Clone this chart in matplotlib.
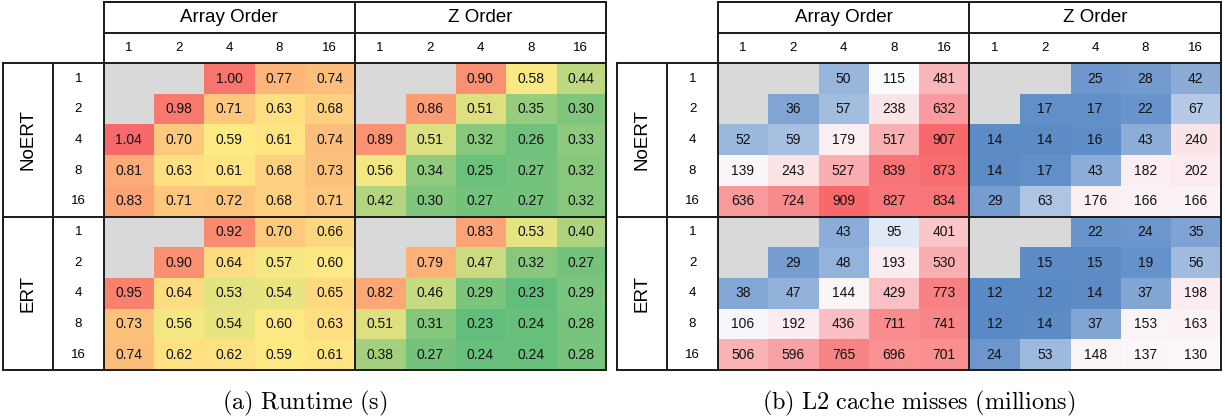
import numpy as np
import matplotlib
matplotlib.use("Agg")
import matplotlib.pyplot as plt
from matplotlib.colors import LinearSegmentedColormap, TwoSlopeNorm

plt.rcParams["font.family"] = ["Liberation Sans", "DejaVu Sans"]
plt.rcParams["mathtext.fontset"] = "cm"

nan = np.nan

# thread counts along columns (within each layout) and rows (within each group)
col_labels = ["1", "2", "4", "8", "16"]
row_labels = ["1", "2", "4", "8", "16"]
layouts = ["Array Order", "Z Order"]
groups = ["NoERT", "ERT"]

# runtime in seconds
rt_noert_array = [[nan, nan, 1.00, 0.77, 0.74],
                  [nan, 0.98, 0.71, 0.63, 0.68],
                  [1.04, 0.70, 0.59, 0.61, 0.74],
                  [0.81, 0.63, 0.61, 0.68, 0.73],
                  [0.83, 0.71, 0.72, 0.68, 0.71]]
rt_noert_z = [[nan, nan, 0.90, 0.58, 0.44],
              [nan, 0.86, 0.51, 0.35, 0.30],
              [0.89, 0.51, 0.32, 0.26, 0.33],
              [0.56, 0.34, 0.25, 0.27, 0.32],
              [0.42, 0.30, 0.27, 0.27, 0.32]]
rt_ert_array = [[nan, nan, 0.92, 0.70, 0.66],
                [nan, 0.90, 0.64, 0.57, 0.60],
                [0.95, 0.64, 0.53, 0.54, 0.65],
                [0.73, 0.56, 0.54, 0.60, 0.63],
                [0.74, 0.62, 0.62, 0.59, 0.61]]
rt_ert_z = [[nan, nan, 0.83, 0.53, 0.40],
            [nan, 0.79, 0.47, 0.32, 0.27],
            [0.82, 0.46, 0.29, 0.23, 0.29],
            [0.51, 0.31, 0.23, 0.24, 0.28],
            [0.38, 0.27, 0.24, 0.24, 0.28]]

# L2 cache misses in millions
l2_noert_array = [[nan, nan, 50, 115, 481],
                  [nan, 36, 57, 238, 632],
                  [52, 59, 179, 517, 907],
                  [139, 243, 527, 839, 873],
                  [636, 724, 909, 827, 834]]
l2_noert_z = [[nan, nan, 25, 28, 42],
              [nan, 17, 17, 22, 67],
              [14, 14, 16, 43, 240],
              [14, 17, 43, 182, 202],
              [29, 63, 176, 166, 166]]
l2_ert_array = [[nan, nan, 43, 95, 401],
                [nan, 29, 48, 193, 530],
                [38, 47, 144, 429, 773],
                [106, 192, 436, 711, 741],
                [506, 596, 765, 696, 701]]
l2_ert_z = [[nan, nan, 22, 24, 35],
            [nan, 15, 15, 19, 56],
            [12, 12, 14, 37, 198],
            [12, 14, 37, 153, 163],
            [24, 53, 148, 137, 130]]

runtime = np.block([[np.array(rt_noert_array), np.array(rt_noert_z)],
                    [np.array(rt_ert_array), np.array(rt_ert_z)]])
l2 = np.block([[np.array(l2_noert_array), np.array(l2_noert_z)],
               [np.array(l2_ert_array), np.array(l2_ert_z)]])

# spreadsheet-style three colour scales (min / median / max)
rt_cmap = LinearSegmentedColormap.from_list("gyr", ["#63BE7B", "#FFEB84", "#F8696B"])
l2_cmap = LinearSegmentedColormap.from_list("bwr_xl", ["#5A8AC6", "#FCFCFF", "#F8696B"])
for cm in (rt_cmap, l2_cmap):
    cm.set_bad("#D9D9D9")

W, H = 1225, 418
fig = plt.figure(figsize=(W / 100, H / 100), dpi=100)

LINE = dict(color="#1a1a1a", lw=1.4, solid_capstyle="projecting", clip_on=False)


def draw_table(rect, data, cmap, fmt, caption):
    ax = fig.add_axes(rect)
    ax.set_xlim(-2, 10)
    ax.set_ylim(10, -2)
    ax.axis("off")

    masked = np.ma.masked_invalid(data)
    norm = TwoSlopeNorm(vmin=np.nanmin(data), vcenter=np.nanmedian(data),
                        vmax=np.nanmax(data))
    ax.imshow(masked, cmap=cmap, norm=norm, extent=(0, 10, 10, 0),
              aspect="auto", interpolation="nearest")

    for i in range(data.shape[0]):
        for j in range(data.shape[1]):
            if not np.isnan(data[i, j]):
                ax.text(j + 0.5, i + 0.5, fmt.format(data[i, j]),
                        ha="center", va="center", fontsize=10, color="#111")

    # headers
    for k, name in enumerate(layouts):
        ax.text(5 * k + 2.5, -1.5, name, ha="center", va="center", fontsize=13.5)
        for j, lab in enumerate(col_labels):
            ax.text(5 * k + j + 0.5, -0.5, lab, ha="center", va="center", fontsize=9.5)
    for k, name in enumerate(groups):
        ax.text(-1.5, 5 * k + 2.5, name, ha="center", va="center",
                fontsize=13.5, rotation=90)
        for i, lab in enumerate(row_labels):
            ax.text(-0.5, 5 * k + i + 0.5, lab, ha="center", va="center", fontsize=9.5)

    # rules
    ax.plot([0, 10], [-2, -2], **LINE)
    ax.plot([0, 10], [-1, -1], **LINE)
    for y in (0, 5, 10):
        ax.plot([-2, 10], [y, y], **LINE)
    ax.plot([-2, -2], [0, 10], **LINE)
    ax.plot([-1, -1], [0, 10], **LINE)
    for x in (0, 5, 10):
        ax.plot([x, x], [-2, 10], **LINE)

    ax.text(4, 11.1, caption, ha="center", va="center", fontsize=17.5)


draw_table([3 / W, 48 / H, 603 / W, 368 / H], runtime, rt_cmap, "{:.2f}",
           r"$\mathrm{(a)\ Runtime\ (s)}$")
draw_table([617 / W, 48 / H, 604 / W, 368 / H], l2, l2_cmap, "{:.0f}",
           r"$\mathrm{(b)\ L2\ cache\ misses\ (millions)}$")

fig.savefig("out.png", dpi=100)
